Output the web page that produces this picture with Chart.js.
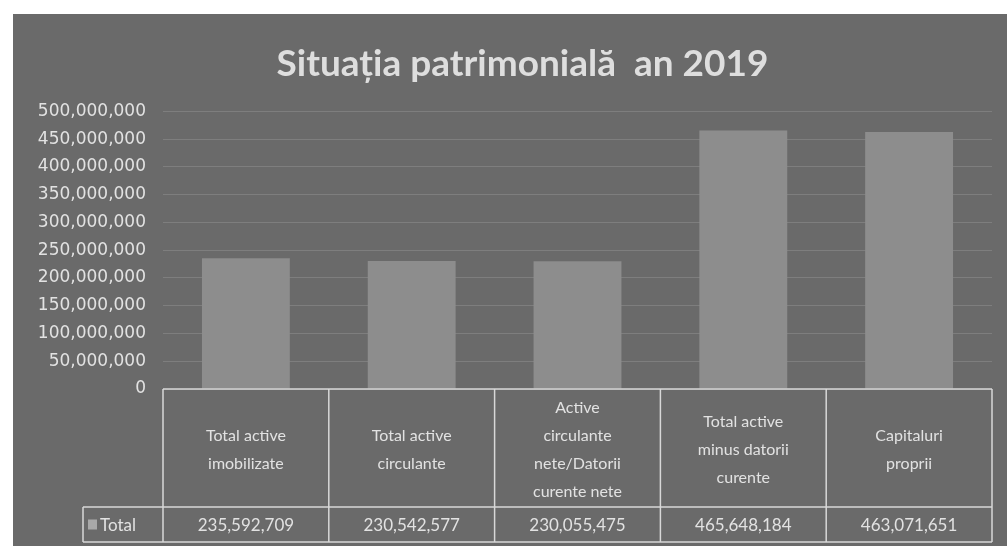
<!DOCTYPE html>
<html lang="ro">
  <head>
    <meta charset="UTF-8" />
    <title>Situația patrimonială an 2019</title>
    <script src="https://cdn.jsdelivr.net/npm/chart.js"></script>
    <style>
      html, body { margin: 0; padding: 0; background: #ffffff; }
      body { width: 1007px; height: 555px; position: relative; overflow: hidden; }
      #box {
        position: absolute; left: 13px; top: 14px;
        width: 994px; height: 532px; background: #6a6a6a;
      }
    </style>
  </head>
  <body>
    <div id="box"><canvas id="barChart"></canvas></div>

    <script>
      // data
      const categories = [
        ["Total active", "imobilizate"],
        ["Total active", "circulante"],
        ["Active", "circulante", "nete/Datorii", "curente nete"],
        ["Total active", "minus datorii", "curente"],
        ["Capitaluri", "proprii"],
      ];
      const totals = [235592709, 230542577, 230055475, 465648184, 463071651];
      const seriesName = "Total";
      const yTicks = [0, 50000000, 100000000, 150000000, 200000000, 250000000,
        300000000, 350000000, 400000000, 450000000, 500000000];

      const fmt = (v) => Number(v).toLocaleString("en-US");
      const textColor = "#e2e2e2";
      const lineColor = "#d8d8d8";

      // draws the data table (borders, legend cell, value row) under the bars
      const dataTable = {
        id: "dataTable",
        afterLayout(chart) {
          // title sits a bit right of the canvas centre in the original
          if (chart.titleBlock) chart.titleBlock.left += 40;
        },
        afterDraw(chart) {
          const ctx = chart.ctx;
          const x = chart.scales.x;
          const area = chart.chartArea;
          const top = area.bottom;
          const rowY = top + 118;
          const bottom = x.bottom;
          const legendLeft = 70;
          const step = (area.right - area.left) / categories.length;

          ctx.save();
          ctx.strokeStyle = lineColor;
          ctx.lineWidth = 1.5;
          ctx.beginPath();
          ctx.moveTo(area.left, top);
          ctx.lineTo(area.right, top);
          ctx.moveTo(legendLeft, rowY);
          ctx.lineTo(area.right, rowY);
          ctx.moveTo(legendLeft, bottom);
          ctx.lineTo(area.right, bottom);
          ctx.moveTo(legendLeft, rowY);
          ctx.lineTo(legendLeft, bottom);
          for (let i = 0; i <= categories.length; i++) {
            const gx = area.left + i * step;
            ctx.moveTo(gx, top);
            ctx.lineTo(gx, bottom);
          }
          ctx.stroke();

          // legend cell
          const midY = (rowY + bottom) / 2;
          ctx.fillStyle = "#a9a9a9";
          ctx.fillRect(legendLeft + 5, midY - 5, 9, 10);
          ctx.fillStyle = textColor;
          ctx.font = "17px Lato";
          ctx.textAlign = "left";
          ctx.textBaseline = "middle";
          ctx.fillText(seriesName, legendLeft + 17, midY + 1);

          // value row
          ctx.textAlign = "center";
          ctx.font = "17px Lato";
          totals.forEach((v, i) => {
            ctx.fillText(fmt(v), x.getPixelForValue(i), midY + 1);
          });
          ctx.restore();
        },
      };

      const ctxBar = document.getElementById("barChart").getContext("2d");
      const barChart = new Chart(ctxBar, {
        type: "bar",
        data: {
          labels: categories,
          datasets: [
            {
              label: seriesName,
              data: totals,
              backgroundColor: "#8d8d8d",
              borderWidth: 0,
              barPercentage: 0.53,
              categoryPercentage: 1,
            },
          ],
        },
        options: {
          responsive: true,
          maintainAspectRatio: false,
          animation: false,
          layout: { padding: { top: 10, right: 15, bottom: 4, left: 0 } },
          scales: {
            x: {
              grid: { display: false, drawTicks: false },
              border: { display: false },
              afterFit: (s) => { s.height = 153; },
              ticks: {
                color: textColor,
                padding: 19,
                crossAlign: "center",
                maxRotation: 0,
                autoSkip: false,
                font: { family: "Lato, sans-serif", size: 16, lineHeight: "28px" },
              },
            },
            y: {
              min: 0,
              max: 500000000,
              afterFit: (s) => { s.width = 150; },
              afterBuildTicks: (s) => { s.ticks = yTicks.map((v) => ({ value: v })); },
              border: { display: false },
              grid: { color: "rgba(210,210,210,0.2)", lineWidth: 1, drawTicks: false },
              ticks: {
                color: textColor,
                padding: 17,
                font: { family: "DejaVu Sans", size: 17 },
                callback: (v) => fmt(v),
              },
            },
          },
          plugins: {
            legend: { display: false },
            tooltip: { enabled: false },
            title: {
              display: true,
              text: "Situația patrimonială  an 2019",
              color: "#dedede",
              font: { family: "Lato", size: 37, weight: "bold", lineHeight: 1.2 },
              padding: { top: 18, bottom: 25 },
            },
          },
        },
        plugins: [dataTable],
      });
    </script>
  </body>
</html>
